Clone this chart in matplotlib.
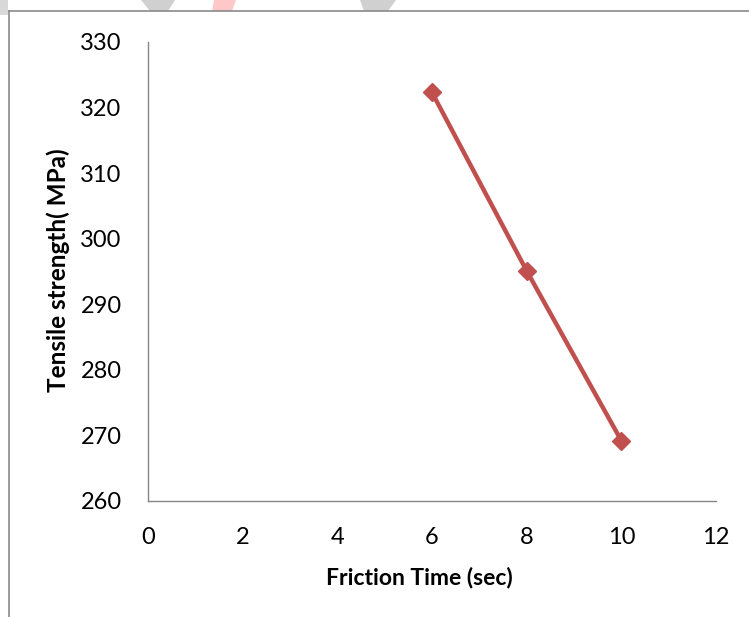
import matplotlib.pyplot as plt
from matplotlib.patches import Polygon
from matplotlib.lines import Line2D

# data
friction_time = [6, 8, 10]
tensile_strength = [322.3, 295.1, 269.2]

x_ticks = [0, 2, 4, 6, 8, 10, 12]
y_ticks = [260, 270, 280, 290, 300, 310, 320, 330]

W, H = 749, 617
fig = plt.figure(figsize=(W / 100, H / 100), dpi=100)
plt.rcParams["font.family"] = ["Lato", "DejaVu Sans"]


def px(x, y):
    return x / W, 1 - y / H


# faint watermark bits at the top edge
for pts, col in [
    ([(141, 0), (175, 0), (168, 11), (150, 11)], "#d0d0d0"),
    ([(214, 0), (236, 0), (232, 11), (212, 11)], "#ffc8c8"),
    ([(360, 0), (396, 0), (388, 11), (364, 11)], "#d0d0d0"),
    ([(0, 0), (8, 0), (8, 15), (0, 15)], "#d8d8d8"),
]:
    fig.patches.append(Polygon([px(*p) for p in pts], closed=True,
                               transform=fig.transFigure, facecolor=col,
                               edgecolor="none", zorder=0))

# chart frame
fig.lines.append(Line2D([px(9, 0)[0], 1], [px(0, 11)[1]] * 2,
                        transform=fig.transFigure, color="#8a8a8a", lw=1.2))
fig.lines.append(Line2D([px(9, 0)[0]] * 2, [px(0, 11)[1], 0],
                        transform=fig.transFigure, color="#8a8a8a", lw=1.2))

ax = fig.add_axes([148 / W, (H - 501) / H, (716 - 148) / W, (501 - 42) / H])

ax.plot(friction_time, tensile_strength, color="#C0504D", lw=3.2,
        marker="D", markersize=9, zorder=3)

ax.set_xlim(0, 12)
ax.set_ylim(260, 330)
ax.set_xticks(x_ticks)
ax.set_yticks(y_ticks)
ax.tick_params(length=0, labelsize=17)
ax.tick_params(axis="x", pad=19)
ax.tick_params(axis="y", pad=19)

for side in ["top", "right"]:
    ax.spines[side].set_visible(False)
for side in ["left", "bottom"]:
    ax.spines[side].set_color("#868686")
    ax.spines[side].set_linewidth(1.0)

ax.set_xlabel("Friction Time (sec)", fontsize=16.5, fontweight="bold",
              va="center", ha="center")
ax.set_ylabel("Tensile strength( MPa)", fontsize=17.5, fontweight="bold",
              va="center", ha="center")
ax.xaxis.set_label_coords(0.477, -0.166)
ax.yaxis.set_label_coords(-0.158, 0.503)

fig.savefig("out.png", dpi=100)
